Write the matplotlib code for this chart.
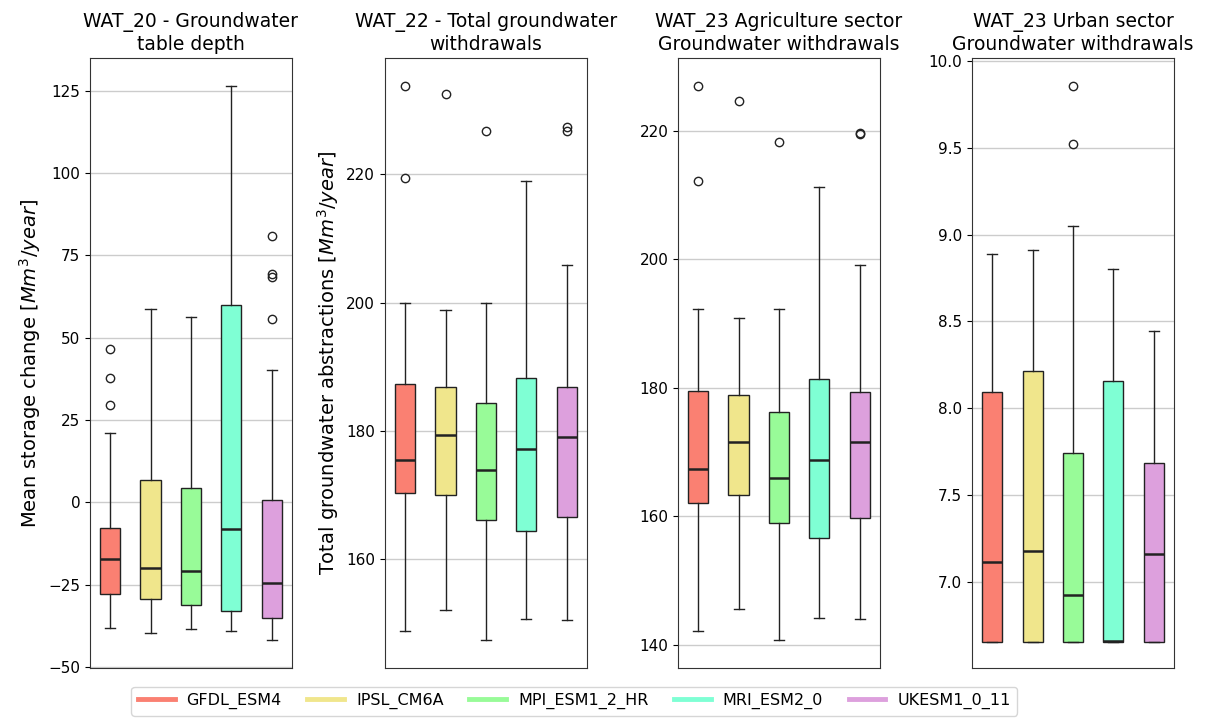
import matplotlib
matplotlib.use("Agg")
import matplotlib.pyplot as plt
from matplotlib.lines import Line2D

models = ["GFDL_ESM4", "IPSL_CM6A", "MPI_ESM1_2_HR", "MRI_ESM2_0", "UKESM1_0_11"]
colors = ["salmon", "khaki", "palegreen", "aquamarine", "plum"]

titles = [
    "WAT_20 - Groundwater\ntable depth",
    "WAT_22 - Total groundwater\nwithdrawals",
    "WAT_23 Agriculture sector\nGroundwater withdrawals",
    "WAT_23 Urban sector\nGroundwater withdrawals",
]
ylabels = [
    "Mean storage change [$Mm^3/year$]",
    "Total groundwater abstractions [$Mm^3/year$]",
    "",
    "",
]

# WAT_20 storage change
wat20_med = [-17.2, -20.0, -20.8, -8.2, -24.5]
wat20_q1 = [-27.8, -29.4, -31.1, -33.1, -35.2]
wat20_q3 = [-7.7, 6.9, 4.4, 60.0, 0.6]
wat20_lo = [-38.3, -39.8, -38.6, -39.0, -41.9]
wat20_hi = [21.2, 58.6, 56.2, 126.5, 40.1]
wat20_fl = [[46.5, 37.7, 29.7], [], [], [], [80.9, 69.3, 68.5, 55.7]]

# WAT_22 total withdrawals
wat22_med = [175.4, 179.4, 173.9, 177.1, 179.0]
wat22_q1 = [170.3, 169.9, 166.0, 164.3, 166.5]
wat22_q3 = [187.3, 186.8, 184.4, 188.3, 186.8]
wat22_lo = [148.8, 152.0, 147.3, 150.7, 150.5]
wat22_hi = [200.0, 198.9, 200.0, 219.0, 205.8]
wat22_fl = [[233.8, 219.4], [232.5], [226.7], [], [227.4, 226.7]]

# WAT_23 agriculture withdrawals
agr_med = [167.4, 171.5, 165.9, 168.8, 171.5]
agr_q1 = [162.1, 163.3, 159.0, 156.7, 159.8]
agr_q3 = [179.5, 178.9, 176.3, 181.4, 179.3]
agr_lo = [142.2, 145.5, 140.7, 144.2, 144.0]
agr_hi = [192.2, 190.9, 192.2, 211.3, 199.1]
agr_fl = [[227.0, 212.2], [224.7], [218.2], [], [219.6, 219.5]]

# WAT_23 urban withdrawals
urb_med = [7.113, 7.178, 6.924, 6.660, 7.162]
urb_q1 = [6.657, 6.657, 6.657, 6.657, 6.657]
urb_q3 = [8.095, 8.215, 7.745, 8.160, 7.683]
urb_lo = [6.657, 6.657, 6.657, 6.657, 6.657]
urb_hi = [8.891, 8.910, 9.051, 8.803, 8.447]
urb_fl = [[], [], [9.856, 9.521], [], []]

panels = [
    (wat20_med, wat20_q1, wat20_q3, wat20_lo, wat20_hi, wat20_fl),
    (wat22_med, wat22_q1, wat22_q3, wat22_lo, wat22_hi, wat22_fl),
    (agr_med, agr_q1, agr_q3, agr_lo, agr_hi, agr_fl),
    (urb_med, urb_q1, urb_q3, urb_lo, urb_hi, urb_fl),
]

fig = plt.figure(figsize=(12.09, 7.2), dpi=100)
lefts = [0.0744, 0.3184, 0.5608, 0.804]
width = 0.167
bottom = 0.0722
height = 0.847

axes = []
for i, (med, q1, q3, lo, hi, fl) in enumerate(panels):
    ax = fig.add_axes([lefts[i], bottom, width, height])
    axes.append(ax)
    stats = []
    for k in range(len(models)):
        stats.append(dict(med=med[k], q1=q1[k], q3=q3[k],
                          whislo=lo[k], whishi=hi[k], fliers=fl[k]))
    bp = ax.bxp(stats, patch_artist=True, widths=0.5,
                medianprops=dict(color="#222222", linewidth=1.8),
                boxprops=dict(edgecolor="#222222", linewidth=1.0),
                whiskerprops=dict(color="#222222"),
                capprops=dict(color="#222222"),
                flierprops=dict(marker="o", markerfacecolor="none",
                                markeredgecolor="#222222", markersize=6))
    for patch, c in zip(bp["boxes"], colors):
        patch.set_facecolor(c)
    ax.set_title(titles[i], fontsize=13.5)
    if ylabels[i]:
        ax.set_ylabel(ylabels[i], fontsize=14)
    ax.set_xticks([])
    ax.tick_params(axis="y", labelsize=11)
    ax.yaxis.grid(True, color="#cccccc", linewidth=1)
    ax.set_axisbelow(True)
    for sp in ax.spines.values():
        sp.set_color("#333333")

# keep the urban panel's lower bound just above 6.5
axes[3].set_ylim(6.505, 10.016)

handles = [Line2D([0], [0], color=c, linewidth=3.5) for c in colors]
fig.legend(handles, models, loc="lower center", ncol=5,
           bbox_to_anchor=(0.475, -0.005), fontsize=11.5,
           handlelength=2.3, handletextpad=0.75, columnspacing=1.6)

fig.savefig("out.png", dpi=100)
